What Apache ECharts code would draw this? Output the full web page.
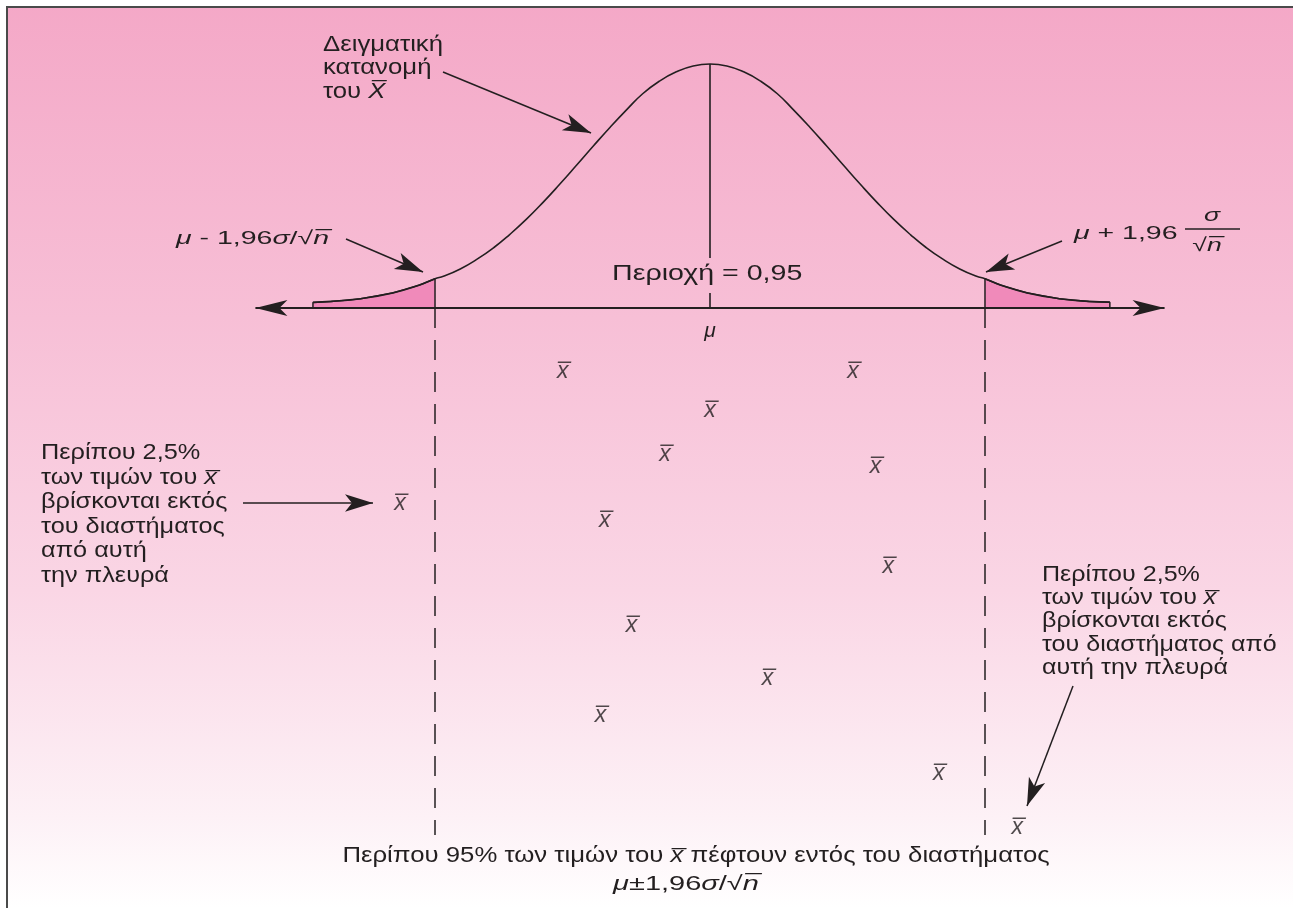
<!DOCTYPE html>
<html>
<head>
<meta charset="utf-8">
<script src="https://cdn.jsdelivr.net/npm/echarts@6/dist/echarts.min.js"></script>
<style>
html, body { margin: 0; padding: 0; background: #fff; }
#chart { width: 1293px; height: 908px; }
</style>
</head>
<body>
<div id="chart"></div>
<script>
// x in units of sigma/sqrt(n) around mu, y = density relative to the peak
const curveX = [-2.83, -2.70, -2.49, -2.26, -2.07, -1.96, -1.90, -1.78, -1.66, -1.54, -1.43, -1.31, -1.19,
                -1.07, -0.95, -0.83, -0.71, -0.59, -0.48, -0.36, -0.24, -0.12, 0,
                0.12, 0.24, 0.36, 0.48, 0.59, 0.71, 0.83, 0.95, 1.07, 1.19, 1.31, 1.43,
                1.54, 1.66, 1.78, 1.90, 1.96, 2.07, 2.26, 2.49, 2.70, 2.85];
const curveY = [0.023, 0.027, 0.038, 0.062, 0.094, 0.12, 0.13, 0.16, 0.20, 0.248, 0.30, 0.363, 0.433,
                0.508, 0.586, 0.665, 0.742, 0.815, 0.878, 0.93, 0.968, 0.992, 1.0,
                0.992, 0.968, 0.93, 0.878, 0.815, 0.742, 0.665, 0.586, 0.508, 0.433, 0.363, 0.30,
                0.248, 0.20, 0.16, 0.13, 0.12, 0.094, 0.062, 0.038, 0.027, 0.024];
const critical = [-1.96, 1.96];
// the sample means drawn below the axis, and the row each one sits on
const sampleMeans = [-1.05, 1.02, 0, -0.32, 1.18, -2.21, -0.75, 1.27, -0.56, 0.41, -0.78, 1.63, 2.19];
const sampleRows = [-0.26, -0.26, -0.42, -0.60, -0.65, -0.80, -0.87, -1.06, -1.30, -1.52, -1.67, -1.91, -2.13];

const FONT = '"Liberation Sans", Arial, sans-serif';
const INK = '#231f20';
const TAIL = '#f08aba';

let myChart = echarts.init(document.getElementById('chart'));

const curve = curveX.map((x, i) => [x, curveY[i]]);
const last = curveX.length - 1;
const leftTail = [[curveX[0], 0]]
    .concat(curve.filter(p => p[0] <= critical[0]))
    .concat([[critical[0], 0]]);
const rightTail = [[critical[1], 0]]
    .concat(curve.filter(p => p[0] >= critical[1]))
    .concat([[curveX[last], 0]]);
const means = sampleMeans.map((x, i) => [x, sampleRows[i]]);

function rich(size, lh) {
    return {
        r: { fontSize: size, fontFamily: FONT, fill: INK, lineHeight: lh },
        i: { fontSize: size, fontFamily: FONT, fill: INK, lineHeight: lh, fontStyle: 'italic' }
    };
}
// the lettering in the picture is wider than Liberation Sans, so sx stretches it
function text(x, y, str, size, opts) {
    opts = opts || {};
    return {
        type: 'text',
        x: x, y: y,
        scaleX: opts.sx || 1,
        silent: true,
        style: {
            text: str,
            rich: rich(size, opts.lh || size * 1.2),
            align: opts.align || 'left',
            verticalAlign: opts.valign || 'middle',
            fill: INK
        }
    };
}
function arrow(x1, y1, x2, y2) {
    return [
        { x: x1, y: y1, symbol: 'none' },
        { x: x2, y: y2, symbol: 'arrow', symbolSize: [13, 28] }
    ];
}

myChart.setOption({
    animation: false,
    backgroundColor: new echarts.graphic.LinearGradient(0, 0, 0, 1, [
        { offset: 0, color: '#f4a8c7' },
        { offset: 0.35, color: '#f7bfd6' },
        { offset: 0.65, color: '#fad6e5' },
        { offset: 0.9, color: '#fdf1f6' },
        { offset: 1, color: '#ffffff' }
    ]),
    grid: { left: 78.65, right: 21.8, top: 3, bottom: 51 },
    xAxis: { type: 'value', min: -4.5, max: 4, show: false },
    yAxis: { type: 'value', min: -2.25, max: 1.25, show: false },
    series: [
        {
            name: 'left tail',
            type: 'line',
            data: leftTail,
            showSymbol: false,
            silent: true,
            lineStyle: { color: INK, width: 1.5 },
            areaStyle: { color: TAIL, opacity: 1 },
            z: 3
        },
        {
            name: 'right tail',
            type: 'line',
            data: rightTail,
            showSymbol: false,
            silent: true,
            lineStyle: { color: INK, width: 1.5 },
            areaStyle: { color: TAIL, opacity: 1 },
            z: 3
        },
        {
            name: 'curve',
            type: 'line',
            data: curve,
            smooth: true,
            showSymbol: false,
            silent: true,
            lineStyle: { color: INK, width: 1.6 },
            z: 4,
            markLine: {
                silent: true,
                animation: false,
                label: { show: false },
                lineStyle: { color: INK, width: 1.6, type: 'solid' },
                symbol: ['none', 'none'],
                data: [
                    [{ coord: [0, 1] }, { coord: [0, 0.205] }],
                    [{ coord: [0, 0.061] }, { coord: [0, 0] }],
                    [{ coord: [critical[0], 0], lineStyle: { type: [20, 12], width: 1.5 } }, { coord: [critical[0], -2.16] }],
                    [{ coord: [critical[1], 0], lineStyle: { type: [20, 12], width: 1.5 } }, { coord: [critical[1], -2.16] }]
                ]
            }
        },
        {
            name: 'axis',
            type: 'line',
            data: [],
            silent: true,
            z: 5,
            markLine: {
                silent: true,
                animation: false,
                label: { show: false },
                lineStyle: { color: INK, width: 2, type: 'solid' },
                symbol: ['arrow', 'arrow'],
                symbolSize: [12, 32],
                data: [
                    [{ coord: [-3.24, 0] }, { coord: [3.24, 0] }]
                ]
            }
        },
        {
            name: 'pointers',
            type: 'line',
            data: [],
            silent: true,
            z: 5,
            markLine: {
                silent: true,
                animation: false,
                label: { show: false },
                lineStyle: { color: INK, width: 1.5, type: 'solid' },
                data: [
                    arrow(443, 72, 591, 133),
                    arrow(346, 239, 423, 272),
                    arrow(1062, 241, 986, 272),
                    arrow(243, 503, 373, 503),
                    arrow(1073, 686, 1027, 806)
                ]
            }
        },
        {
            name: 'sample means',
            type: 'scatter',
            data: means,
            symbolSize: 0,
            silent: true,
            label: {
                show: true,
                position: 'inside',
                formatter: '{x|x\u0305}',
                rich: {
                    x: { fontSize: 23, fontFamily: FONT, fontStyle: 'italic', color: INK }
                }
            }
        }
    ],
    graphic: [
        { type: 'rect', shape: { x: 0, y: 0, width: 1293, height: 6 }, style: { fill: '#fff' }, silent: true },
        { type: 'rect', shape: { x: 0, y: 0, width: 6, height: 908 }, style: { fill: '#fff' }, silent: true },
        { type: 'polyline', shape: { points: [[7, 908], [7, 7], [1293, 7]] }, style: { stroke: '#4a4a4a', lineWidth: 2, fill: null }, silent: true },
        text(323, 33, '{r|Δειγματική}\n{r|κατανομή}\n{r|του }{i|X\u0305}', 22, { lh: 23.5, valign: 'top', sx: 1.17 }),
        text(176, 239, '{i|μ}{r| - 1,96}{i|σ}{r|/√}{i|n\u0305}', 19, { sx: 1.5 }),
        text(612, 274, '{r|Περιοχή = 0,95}', 22, { sx: 1.3 }),
        text(710, 331, '{i|μ}', 21, { align: 'center' }),
        text(1074, 234, '{i|μ}{r| + 1,96}', 19, { sx: 1.5 }),
        text(1212, 216, '{i|σ}', 19, { align: 'center', sx: 1.4 }),
        { type: 'line', shape: { x1: 1185, y1: 229, x2: 1240, y2: 229 }, style: { stroke: INK, lineWidth: 1.3 }, silent: true },
        text(1207, 246, '{r|√}{i|n\u0305}', 19, { align: 'center', sx: 1.4 }),
        text(41, 441, '{r|Περίπου 2,5%}\n{r|των τιμών του }{i|x\u0305}\n{r|βρίσκονται εκτός}\n{r|του διαστήματος}\n{r|από αυτή}\n{r|την πλευρά}', 22, { lh: 24.5, valign: 'top', sx: 1.15 }),
        text(1042, 563, '{r|Περίπου 2,5%}\n{r|των τιμών του }{i|x\u0305}\n{r|βρίσκονται εκτός}\n{r|του διαστήματος από}\n{r|αυτή την πλευρά}', 22, { lh: 23.3, valign: 'top', sx: 1.14 }),
        text(696, 856, '{r|Περίπου 95% των τιμών του }{i|x\u0305}{r| πέφτουν εντός του διαστήματος}', 22, { align: 'center', sx: 1.17 }),
        text(686, 884, '{i|μ}{r|±1,96}{i|σ}{r|/√}{i|n\u0305}', 20, { align: 'center', sx: 1.45 })
    ]
});
window.addEventListener('resize', function () {
    myChart.resize();
});
</script>
</body>
</html>
